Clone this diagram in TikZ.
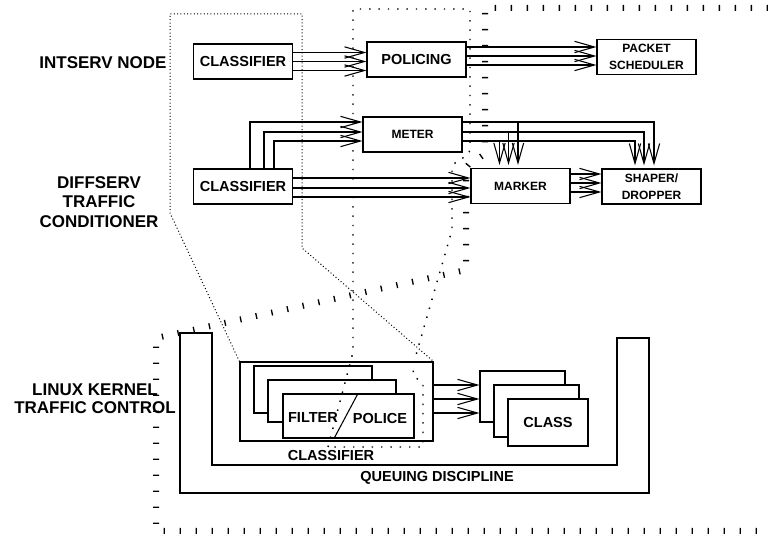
\documentclass[tikz,border=0pt]{standalone}
\usepackage{fontspec}
\setmainfont{Liberation Sans}
\usetikzlibrary{positioning,arrows.meta,calc}

\begin{document}
\begin{tikzpicture}[x=0.75pt, y=-0.75pt, line width=0.8pt,
        module/.style={rectangle, draw=black, fill=white, minimum width=74.25pt, minimum height=26.25pt, inner sep=0pt, align=center, font=\fontsize{10.9}{13}\selectfont\bfseries},
        minor/.style={font=\fontsize{9}{12.5}\selectfont\bfseries},
        sheet/.style={rectangle, draw=black, fill=white, inner sep=0pt},
        caption/.style={inner sep=0pt, font=\fontsize{10.9}{13}\selectfont\bfseries},
        side/.style={align=center, inner sep=0pt, font=\fontsize{12.75}{14.5}\selectfont\bfseries},
        flow/.style={-{Straight Barb[length=15pt, width=8.5pt]}},
        fine/.style={line width=0.75pt, dash pattern=on 0.75pt off 1.75pt},
        coarse/.style={line width=1.1pt, dash pattern=on 1.1pt off 5.9pt},
        ticked/.style={line width=4.5pt, dash pattern=on 1pt off 11pt}
    ]
        \useasboundingbox (0,0) rectangle (768,534);

        % Side labels
        \node[side] (intserv) at (103,63) {INTSERV NODE};
        \node[side] (diffserv) at (99,202) {DIFFSERV\\TRAFFIC\\CONDITIONER};
        \node[side, font=\fontsize{12.75}{13.5}\selectfont\bfseries] (kernel) at (95,399) {LINUX KERNEL\\TRAFFIC CONTROL};

        % IntServ node
        \node[module] (icls) at (243,61.5) {CLASSIFIER};
        \node[module] (pol) at (416.5,59.5) {POLICING};
        \node[module, minor] (psch) at (646.5,57) {PACKET\\SCHEDULER};

        % DiffServ traffic conditioner
        \node[module, minor] (meter) at (412.5,134.5) {METER};
        \node[module] (dcls) at (243,186.5) {CLASSIFIER};
        \node[module, minor] (marker) at (520.5,186) {MARKER};
        \node[module, minor] (shaper) at (651.5,186.5) {SHAPER/\\DROPPER};

        % Connections
        \foreach \dy in {-9,0,9} {
            \coordinate (s) at ($(icls.east)+(0,\dy)$);
            \draw[flow] (s) -- (s -| pol.west);
        }
        \foreach \dy in {-12.5,-3.5,5.5} {
            \coordinate (s) at ($(pol.east)+(0,\dy)$);
            \draw[flow] (s) -- (s -| psch.west);
        }
        \foreach \dx/\dy in {7/-12.5, 21/-2.5, 31/6.5} {
            \coordinate (s) at ($(dcls.north)+(\dx,0)$);
            \coordinate (t) at ($(meter.west)+(0,\dy)$);
            \draw[flow] (s) |- (t);
        }
        \foreach \dy in {-8.5,1.5,10.5} {
            \coordinate (s) at ($(dcls.east)+(0,\dy)$);
            \draw[flow] (s) -- (s -| marker.west);
        }
        \foreach \dy/\mx/\sx in {-12.5/-2.5/2.5, -2.5/-12/-7.5, 6.5/-21/-16.5} {
            \coordinate (s) at ($(meter.east)+(0,\dy)$);
            \coordinate (m) at ($(marker.north)+(\mx,-3)$);
            \coordinate (h) at ($(shaper.north)+(\sx,-3)$);
            \draw[flow] (s) -| (h);
            \draw[flow] (s -| m) -- (m);
        }
        \foreach \dy in {-12,-3,6} {
            \coordinate (s) at ($(marker.east)+(0,\dy)$);
            \draw[flow] (s) -- (s -| shaper.west);
        }

        % Queuing discipline
        \draw (180,333) -- (212,333) -- (212,465) -- (617,465) -- (617,338) -- (649,338) -- (649,493) -- (180,493) -- cycle;
        \node[caption] (qlab) at (437,478) {QUEUING DISCIPLINE};

        % Classifier with filters
        \node[sheet, minimum width=144.75pt, minimum height=59.25pt] (kcls) at (336.5,401.5) {};
        \node[caption] (klab) at (331,455) {CLASSIFIER};
        \node[sheet, minimum width=88.5pt, minimum height=35.25pt] (f3) at (313,389.5) {};
        \node[sheet, minimum width=96pt, minimum height=31.5pt] (f2) at (332,401) {};
        \node[sheet, minimum width=98.25pt, minimum height=33pt] (f1) at (348.5,416) {};
        \node[caption] (filt) at (313,418) {FILTER};
        \node[caption] (poli) at (380,418) {POLICE};
        \draw ($(f1.north)+(9.5,0)$) -- ($(f1.south)+(-14.5,0)$);

        % Classes
        \node[sheet, minimum width=63.75pt, minimum height=38.25pt] (c3) at (522.5,396.5) {};
        \node[sheet, minimum width=63.75pt, minimum height=39pt] (c2) at (536.5,411) {};
        \node[sheet, minimum width=60pt, minimum height=35.25pt, font=\fontsize{10.9}{13}\selectfont\bfseries] (c1) at (548,422.5) {CLASS};
        \foreach \dy in {-16.5,-2.5,11.5} {
            \coordinate (s) at ($(kcls.east)+(0,\dy)$);
            \draw[flow] (s) -- (s -| c3.west);
        }

        % Mapping regions
        \draw[fine] (kcls.north west) -- (170,213) -- (170,14) -- (302,14) -- (302,248) -- (kcls.north east);
        \draw[coarse] (328,447) -- (351,360) -- (353,352) -- (353,9) -- (470,9) -- (470,148)
            .. controls (470,160) and (452,158) .. (452,170) -- (452,230) -- (414,362) -- (413,375)
            -- (423,384) -- (423,447) -- cycle;
        \draw[ticked] (768,8) -- (485,8) -- (485,150) .. controls (485,160) and (466,160) .. (466,170)
            -- (466,270) -- (156,338) -- (156,531) -- (768,531);

    \end{tikzpicture}
\end{document}
